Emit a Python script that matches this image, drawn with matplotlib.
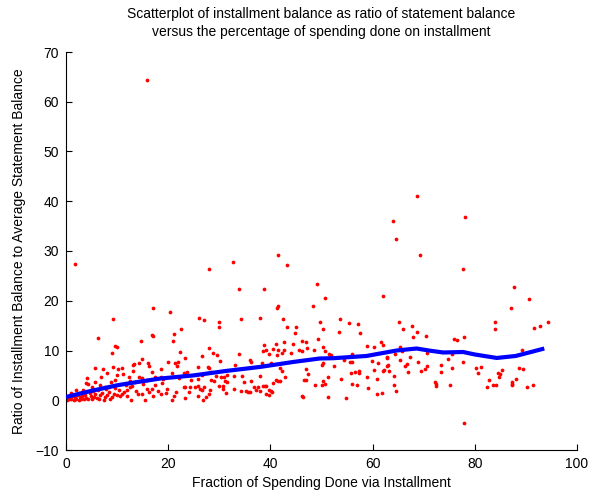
import matplotlib
matplotlib.use("Agg")
import matplotlib.pyplot as plt

plt.rcParams['font.family'] = ['Liberation Sans', 'DejaVu Sans']

# ---- data -------------------------------------------------------------
outlier_x = [15.9, 1.7, 27.9, 32.7, 41.4, 43.2, 33.9, 38.7, 49.1, 50.7, 17.1, 41.3, 41.5, 48.4,
             68.7, 78.1, 64.0, 64.6, 69.2, 77.6, 87.6, 90.7, 87.0, 62.1, 9.1, 20.4, 22.6]
outlier_y = [64.4, 27.3, 26.4, 27.8, 29.2, 27.1, 22.4, 22.3, 23.3, 20.6, 18.5, 18.6, 19.0, 19.0,
             41.0, 36.8, 36.0, 32.5, 29.2, 26.4, 22.7, 20.4, 18.6, 20.9, 16.3, 17.8, 14.4]

right_x = [84.0, 84.0, 91.6, 92.8, 94.4, 75.9, 76.6, 77.8, 89.2, 75.5, 77.6, 75.5, 80.2, 81.3,
           80.7, 84.6, 84.9, 85.4, 84.8, 88.6, 89.5, 88.1, 82.8, 75.1, 82.4, 83.6, 84.1, 87.2,
           87.3, 87.2, 90.3, 91.4, 77.9]
right_y = [15.7, 14.3, 14.6, 15.0, 15.8, 12.4, 12.2, 12.7, 10.2, 9.2, 7.6, 6.4, 6.4, 6.6,
           5.4, 5.4, 5.3, 6.1, 4.6, 6.4, 6.2, 4.2, 4.0, 3.0, 2.7, 3.0, 3.0, 3.6,
           3.3, 3.0, 2.7, 3.0, -4.6]

mid_x = [49.8, 50.2, 46.1, 47.0, 47.2, 46.1, 49.3, 48.5, 50.2, 50.7, 51.5, 51.8, 53.7, 53.5,
         55.4, 57.1, 57.6, 56.0, 54.4, 55.5, 56.0, 50.2, 50.1, 47.0, 47.4, 46.6, 47.0, 50.3,
         51.3, 48.7, 50.0, 50.6, 52.5, 53.8, 55.7, 56.6, 57.4, 57.3, 55.9, 57.0, 46.1, 46.4,
         51.2, 54.7, 58.9, 60.2, 61.7, 62.0, 59.9, 61.1, 60.2, 59.0, 60.9, 59.1, 60.9, 61.8,
         62.1, 62.3, 63.2, 62.8, 62.9, 63.0, 62.8, 64.4, 64.1, 64.6, 64.2, 65.2, 65.9, 65.4,
         65.8, 65.3, 66.4, 66.7, 67.4, 67.8, 68.7, 68.0, 66.9, 68.9, 69.4, 70.3, 70.7, 70.5,
         70.6, 72.2, 72.4, 72.5, 73.4, 73.3, 74.8]
mid_y = [15.7, 14.4, 12.0, 11.7, 10.6, 9.9, 12.3, 10.2, 10.7, 9.9, 9.3, 9.0, 16.4, 13.7,
         15.5, 15.4, 13.6, 9.2, 8.0, 7.6, 7.6, 7.5, 7.1, 6.2, 5.3, 4.0, 4.0, 3.8,
         4.7, 3.1, 3.1, 3.2, 6.8, 4.2, 5.4, 5.7, 5.8, 5.5, 3.2, 3.1, 0.8, 0.6,
         0.7, 0.5, 10.9, 10.7, 11.7, 11.2, 7.8, 7.5, 6.0, 4.6, 4.2, 2.4, 1.2, 1.5,
         5.8, 6.0, 5.8, 8.7, 8.5, 7.0, 6.8, 9.2, 3.0, 1.9, 4.8, 15.8, 14.3, 10.7,
         9.9, 8.0, 6.9, 7.2, 8.6, 15.0, 13.8, 12.7, 5.6, 7.6, 5.8, 6.2, 6.8, 12.9,
         9.5, 3.7, 3.2, 2.8, 7.0, 5.6, 8.2]

left_mid_x = [26.1, 27.0, 29.9, 29.9, 34.2, 37.9, 42.4, 23.3, 28.0, 26.6, 28.7, 30.2, 29.6, 25.8,
              27.7, 27.9, 33.9, 33.1, 36.1, 36.3, 38.3, 37.9, 38.7, 38.5, 39.1, 39.8, 40.1, 41.0,
              40.6, 41.5, 41.3, 42.2, 42.6, 43.3, 42.6, 44.0, 44.5, 45.0, 44.8, 45.5, 41.9, 42.2,
              42.9, 41.9, 41.5, 41.0, 40.5, 39.7, 40.1, 40.4, 39.2, 39.2, 39.7, 36.8, 37.1, 37.5,
              36.3, 36.1, 38.0, 38.6, 38.9, 35.3, 35.6, 34.4, 34.2, 34.8, 32.9, 31.5, 31.2, 30.9,
              30.3, 31.6, 31.3, 32.8, 29.4, 29.0, 29.9, 30.7, 30.8, 28.4, 28.3, 26.7, 26.2, 25.9,
              26.7, 27.0, 27.3, 28.0, 28.1, 26.9, 25.8, 25.2, 25.9, 24.5, 24.3, 24.1, 23.3, 23.7,
              23.3]
left_mid_y = [16.6, 16.2, 15.8, 14.7, 16.3, 16.6, 16.4, 8.5, 10.6, 8.9, 9.4, 7.9, 9.1, 6.7,
              6.7, 6.5, 9.3, 7.0, 8.0, 7.6, 7.4, 4.8, 11.1, 9.9, 10.2, 9.2, 7.5, 11.4,
              10.3, 10.2, 9.1, 9.4, 11.7, 14.7, 10.1, 9.4, 11.4, 14.7, 13.5, 10.1, 6.4, 5.8,
              4.6, 3.9, 3.8, 4.0, 3.5, 2.0, 1.9, 1.7, 2.8, 1.2, 1.1, 2.7, 2.0, 2.7,
              3.8, 1.7, 1.8, 2.8, 2.8, 1.9, 1.7, 4.9, 1.8, 3.6, 4.8, 5.0, 3.9, 4.6,
              4.7, 3.6, 1.5, 2.3, 4.8, 3.8, 2.8, 2.9, 2.3, 5.7, 4.0, 5.0, 2.3, 2.8,
              2.0, 2.6, 0.7, 1.2, 2.0, 0.0, 0.8, 2.6, 4.2, 4.0, 2.6, 1.7, 0.5, 5.6,
              2.7]

left_x = [6.3, 9.6, 9.9, 9.0, 14.7, 16.8, 17.1, 21.1, 21.0, 22.4, 14.9, 13.2, 13.4, 14.3,
          16.0, 16.3, 9.2, 5.7, 7.3, 8.1, 4.2, 4.0, 4.3, 0.9, 12.3, 13.1, 14.2, 14.9,
          15.9, 10.2, 11.0, 10.0, 9.6, 8.9, 5.7, 6.7, 7.7, 8.5, 16.8, 17.5, 18.6, 18.5,
          20.0, 20.7, 21.4, 21.7, 22.0, 22.2, 23.0, 23.0, 21.5, 20.7, 21.1, 19.8, 19.6, 18.8,
          18.1, 18.5, 17.5, 16.8, 15.9, 16.2, 15.5, 14.9, 13.7, 14.1, 12.8, 12.5, 11.9, 11.4,
          11.0, 10.3, 10.0, 9.3, 9.0, 8.4, 8.0, 7.6, 7.4, 6.7, 6.4, 5.7, 5.4, 4.8,
          4.4, 3.8, 3.5, 2.8, 2.5, 1.8, 1.5, 0.6, 0.2, 0.4, 1.0, 1.2, 2.0, 2.2,
          3.0, 3.2, 4.0, 4.6, 5.0, 5.2, 6.0, 6.2, 7.0, 7.9, 8.7, 9.5, 10.6, 11.8,
          12.0, 13.0, 13.5, 2.5, 3.4, 1.6, 0.3, 15.0, 17.0, 19.0, 12.6, 11.2, 6.9, 5.0,
          3.0, 2.0]
left_y = [12.6, 10.9, 10.7, 9.5, 11.9, 13.1, 12.9, 13.4, 11.9, 9.6, 8.3, 7.1, 7.2, 7.4,
          7.4, 6.9, 6.7, 6.4, 6.2, 5.4, 4.4, 3.4, 3.2, 1.5, 4.7, 5.9, 4.7, 4.4,
          4.0, 6.2, 6.4, 5.0, 4.0, 3.7, 3.7, 3.0, 2.7, 2.7, 5.7, 4.7, 6.2, 4.7,
          7.7, 5.4, 7.4, 6.8, 7.7, 4.4, 5.4, 2.7, 1.7, 0.0, 0.9, 2.3, 1.5, 3.4,
          1.9, 1.3, 3.0, 2.3, 2.3, 1.7, 0.0, 1.3, 1.8, 1.3, 0.0, 2.6, 2.0, 1.7,
          1.3, 2.0, 1.0, 1.3, 0.7, 1.7, 1.0, 0.7, 0.0, 1.0, 0.3, 1.3, 0.7, 0.8,
          0.3, 1.0, 0.3, 0.7, 0.1, 0.7, 0.1, 0.3, 0.1, 0.5, 0.2, 0.8, 0.3, 1.0,
          0.2, 0.9, 0.5, 1.4, 0.2, 1.8, 0.5, 2.0, 1.5, 2.2, 0.3, 2.4, 0.8, 3.1,
          0.9, 2.8, 3.6, 1.5, 2.0, 1.1, 0.8, 3.2, 0.8, 4.2, 3.9, 5.3, 4.6, 2.6,
          1.4, 2.0]

trend_x = [0, 5, 10, 12, 18.4, 25, 31.4, 38, 44.5, 49.7, 52.3, 58.8, 64.7, 68.6, 71, 73.8,
           77.7, 80, 84.3, 88, 91, 93.6]
trend_y = [0.65, 1.9, 3.0, 3.35, 4.36, 5.0, 5.9, 6.7, 7.7, 8.4, 8.45, 8.9, 10.0, 10.4, 10.0, 9.6,
           9.7, 9.2, 8.5, 8.9, 9.7, 10.4]

title_lines = ["Scatterplot of installment balance as ratio of statement balance",
               "versus the percentage of spending done on installment"]
x_label = "Fraction of Spending Done via Installment"
y_label = "Ratio of Installment Balance to Average Statement Balance"
x_ticks = [0, 20, 40, 60, 80, 100]
y_ticks = [-10, 0, 10, 20, 30, 40, 50, 60, 70]

# ---- figure -----------------------------------------------------------
W, H = 596, 497
fig = plt.figure(figsize=(W / 100, H / 100), dpi=100)
ax = fig.add_axes([66 / W, 1 - 450 / H, (577 - 66) / W, (450 - 52) / H])

all_x = outlier_x + right_x + mid_x + left_mid_x + left_x
all_y = outlier_y + right_y + mid_y + left_mid_y + left_y
ax.plot(all_x, all_y, linestyle='none', marker='o', markersize=2.7,
        markerfacecolor='#ff0000', markeredgecolor='none', zorder=2)
ax.plot(trend_x, trend_y, color='#0000ff', linewidth=3.0, solid_capstyle='butt', zorder=3)

ax.set_xlim(0, 100)
ax.set_ylim(-10, 70)
ax.set_xticks(x_ticks)
ax.set_yticks(y_ticks)
ax.set_yticklabels(["\u221210" if t < 0 else str(t) for t in y_ticks])
ax.tick_params(direction='in', length=4, width=0.8, labelsize=10, pad=5,
               top=False, right=False, colors='black')
for s in ['top', 'right']:
    ax.spines[s].set_visible(False)
for s in ['left', 'bottom']:
    ax.spines[s].set_linewidth(0.8)

ax.set_xlabel(x_label, fontsize=10, labelpad=4)
ax.set_ylabel(y_label, fontsize=10, labelpad=7)

fig.text((66 + 577) / 2 / W, 1 - 14 / H, title_lines[0], ha='center', va='center', fontsize=10)
fig.text((66 + 577) / 2 / W, 1 - 32 / H, title_lines[1], ha='center', va='center', fontsize=10)

fig.savefig("out.png", dpi=100)
